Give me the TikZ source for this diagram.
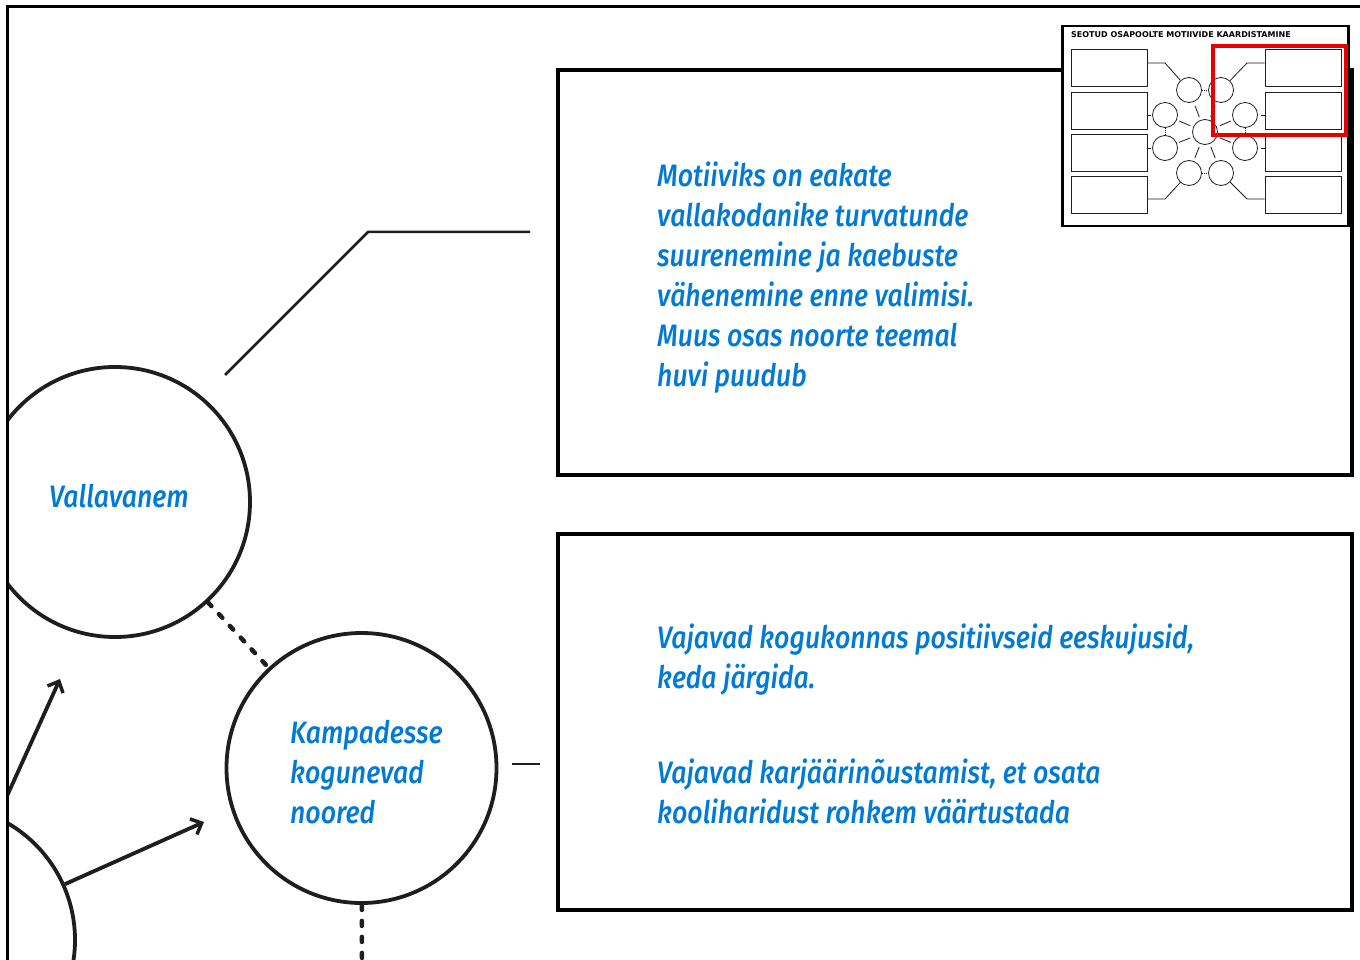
\documentclass[tikz,border=0pt]{standalone}
\usepackage{fontspec}
\setmainfont{Fira Sans}[FakeStretch=0.86, ItalicFont={Fira Sans Medium Italic}]
\newfontfamily\titlefont{DejaVu Sans}
\usetikzlibrary{arrows.meta,calc}
\definecolor{ink}{RGB}{30,30,30}
\definecolor{tblue}{RGB}{0,122,214}
\definecolor{mark}{RGB}{232,0,0}
\begin{document}
\begin{tikzpicture}[x=1pt,y=-1pt,
  ring/.style={circle, draw=ink, line width=3.8pt, minimum size=270pt, inner sep=0pt},
  panel/.style={draw=black, line width=4pt, minimum width=794pt, inner sep=0pt},
  % multi-line texts are placed by the baseline of their last line
  say/.style={text=tblue, font=\fontsize{31}{40}\selectfont\itshape, align=left, inner sep=0pt, anchor=base west},
  lead/.style={draw=ink, line width=2.5pt},
  dotline/.style={draw=ink, line width=4.5pt, line cap=round, dash pattern=on 5pt off 11pt},
  arr/.style={draw=ink, line width=3.8pt, -{Straight Barb[length=9pt,width=17pt,line width=3.5pt]}},
  mini/.style={draw=ink, line width=0.8pt, inner sep=0pt},
  minibox/.style={mini, minimum width=76pt, minimum height=37pt},
  minidot/.style={circle, mini, minimum size=25pt},
  minilink/.style={draw=ink, line width=0.8pt},
  minidots/.style={draw=ink, line width=0.8pt, dash pattern=on 1pt off 1.2pt}]
\useasboundingbox (0,0) rectangle (1360,960);

% page frame
\draw[line width=3pt, black] (7,960) -- (7,7) -- (1360,7);

% stakeholder circles and arrows, cut at the page frame
\begin{scope}
  \clip (8.5,8.5) rectangle (1360,960);
  \node[ring] (vv) at (115,502) {};
  \node[ring] (kamp) at (361.5,768) {};
  \node[ring] (third) at (-60,940) {};
  \coordinate (s1) at (-12,838);
  \coordinate (t1) at (60,679);
  \coordinate (t2) at (204,822);
  \draw[arr] (s1) -- (t1);
  \draw[arr] (third) -- (t2);
\end{scope}
\draw[dotline] (vv) -- (kamp);
\coordinate (dd) at (362,965);
\draw[dotline] (kamp) -- (dd);

\node[say] (vvtext) at (49,507) {Vallavanem};
\node[say] (kamptext) at (290,823) {Kampadesse\\kogunevad\\noored};

% leader lines
\coordinate (l1a) at (225,375);
\coordinate (l1b) at (368,232);
\coordinate (l1c) at (530,232);
\draw[lead, line join=miter] (l1a) -- (l1b) -- (l1c);
\coordinate (l2a) at (512,764);
\coordinate (l2b) at (540,764);
\draw[draw=ink, line width=1.5pt] (l2a) -- (l2b);

% motive panels
\node[panel, minimum height=405pt] (p1) at (955,272.5) {};
\node[panel, minimum height=376pt] (p2) at (955,722) {};

\node[say] (p1text) at (657,386) {Motiiviks on eakate\\vallakodanike turvatunde\\suurenemine ja kaebuste\\vähenemine enne valimisi.\\Muus osas noorte teemal\\huvi puudub};
\node[say] (p2texta) at (657,688) {Vajavad kogukonnas positiivseid eeskujusid,\\keda järgida.};
\node[say] (p2textb) at (657,823) {Vajavad karjäärinõustamist, et osata\\kooliharidust rohkem väärtustada};

% small overview map
\node[draw=black, fill=white, line width=2.5pt, minimum width=286pt, minimum height=200pt, inner sep=0pt, anchor=north west] (inset) at (1061,25) {};
\node[anchor=base west, inner sep=0pt, font=\titlefont\bfseries\fontsize{8}{9}\selectfont] (ititle) at (1071,37.5) {SEOTUD OSAPOOLTE MOTIIVIDE KAARDISTAMINE};

\foreach \r/\y in {1/67.5,2/110.5,3/152.5,4/194.5}{
  \node[minibox] (lb\r) at (1109,\y) {};
  \node[minibox] (rb\r) at (1303,\y) {};
}
\node[minidot] (ic) at (1205,132) {};
\node[minidot] (o1) at (1189,90) {};
\node[minidot] (o2) at (1221,90) {};
\node[minidot] (o3) at (1165,115) {};
\node[minidot] (o4) at (1245,115) {};
\node[minidot] (o5) at (1165,148) {};
\node[minidot] (o6) at (1245,148) {};
\node[minidot] (o7) at (1189,173) {};
\node[minidot] (o8) at (1221,173) {};
\foreach \o in {o1,o2,o3,o4,o5,o6,o7,o8}{
  \draw[minilink] ($(ic)!16pt!(\o)$) -- ($(ic)!28pt!(\o)$);
}
\draw[minidots] (o1) -- (o2);
\draw[minidots] (o7) -- (o8);
\draw[minidots] (o3) -- (o5);
\draw[minidots] (o4) -- (o6);
\draw[minilink] (lb1.east |- 0,63) -- (1165,63) -- (o1);
\draw[minilink] (rb1.west |- 0,63) -- (1247,63) -- (o2);
\draw[minilink] (lb4.east |- 0,199) -- (1165,199) -- (o7);
\draw[minilink] (rb4.west |- 0,199) -- (1247,199) -- (o8);
\draw[minilink] (lb2.east |- 0,115) -- ++(4,0);
\draw[minilink] (lb3.east |- 0,148) -- ++(4,0);
\draw[minilink] (rb2.west |- 0,115) -- ++(-4,0);
\draw[minilink] (rb3.west |- 0,148) -- ++(-4,0);
\node[draw=mark, line width=4pt, minimum width=133pt, minimum height=89pt, inner sep=0pt, anchor=north west] (focus) at (1211,44) {};
\end{tikzpicture}
\end{document}
